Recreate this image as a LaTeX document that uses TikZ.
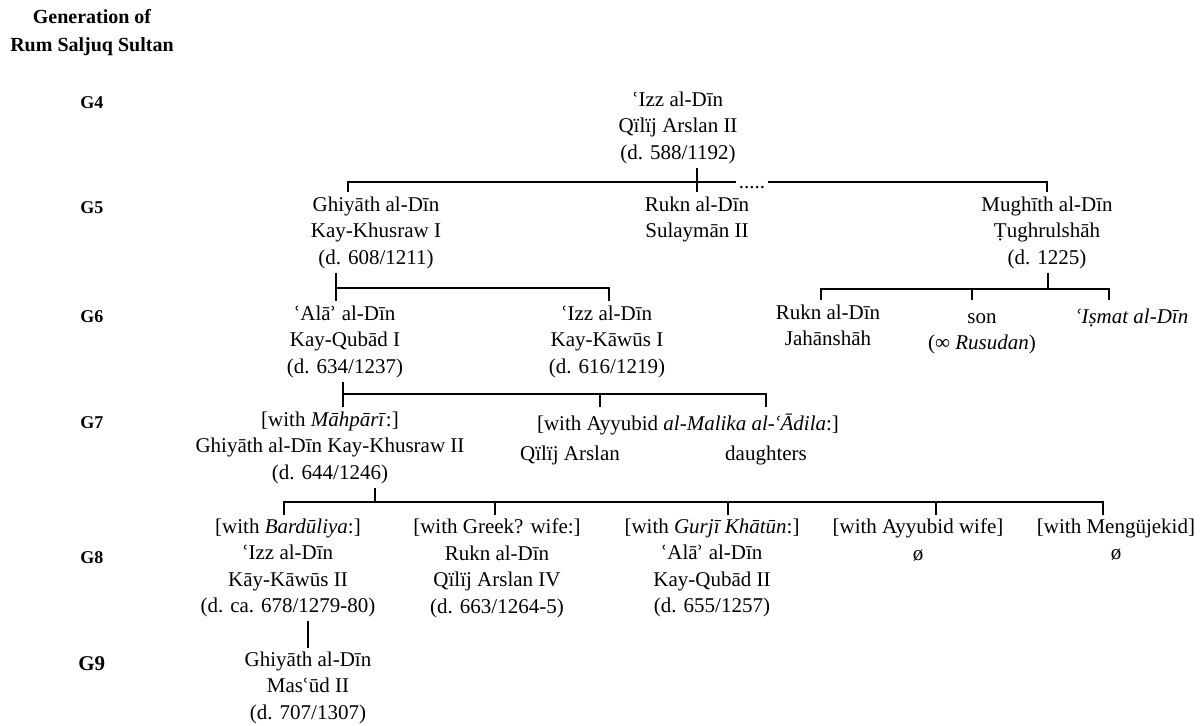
\documentclass[tikz,border=0pt]{standalone}
\usepackage{fontspec}
\setmainfont{Liberation Serif}
\newfontfamily\djv[Scale=0.9]{DejaVu Serif}
\newcommand{\ayn}{{\djv\char"02BF}}
\newcommand{\hmz}{{\djv\char"02BE}}
\usetikzlibrary{calc}

\tikzset{
  sultan/.style={anchor=north, align=center, inner sep=0pt,
    font=\fontsize{10.5}{13.25}\selectfont,
    execute at begin node=\strut, execute at end node=\strut},
  genlbl/.style={anchor=base west, inner sep=0pt, font=\bfseries\fontsize{9}{11}\selectfont},
  tie/.style={line width=0.8pt}
}

\begin{document}
\begin{tikzpicture}[x=0.5pt,y=-0.5pt]
  \useasboundingbox (0,0) rectangle (1203,726);
  % generations
  \node[anchor=base, align=center, inner sep=0pt, font=\bfseries\fontsize{10}{14}\selectfont] (head) at (92,52) {Generation of\\Rum Saljuq Sultan};
  \node[genlbl] (g4) at (80,109) {G4};
  \node[genlbl] (g5) at (80,214) {G5};
  \node[genlbl] (g6) at (80,323) {G6};
  \node[genlbl] (g7) at (80,429) {G7};
  \node[genlbl] (g8) at (80,563) {G8};
  \node[genlbl, font=\bfseries\fontsize{10.5}{12}\selectfont] (g9) at (78,670) {G9};
  % Nodes
  \node[sultan] (izzA) at (678,91.5) {\ayn Izz al-Dīn\\Qïlïj Arslan II\\(d. 588/1192)};
  \node[sultan] (ghiA) at (376,196.5) {Ghiyāth al-Dīn\\Kay-Khusraw I\\(d. 608/1211)};
  \node[sultan] (ruknA) at (697,196.5) {Rukn al-Dīn\\Sulaymān II};
  \node[sultan] (mugh) at (1047,196.5) {Mughīth al-Dīn\\Ṭughrulshāh\\(d. 1225)};
  \node[sultan] (ala) at (345,305.5) {\ayn Alā\hmz{} al-Dīn\\Kay-Qubād I\\(d. 634/1237)};
  \node[sultan] (izzB) at (607,305.5) {\ayn Izz al-Dīn\\Kay-Kāwūs I\\(d. 616/1219)};
  \node[sultan] (ruknB) at (828,304.5) {Rukn al-Dīn\\Jahānshāh};
  \node[sultan] (son) at (982,304.5) {\strut son\\(∞ \textit{Rusudan})};
  \node[sultan] (ismat) at (1132,304.5) {\textit{\ayn Iṣmat al-Dīn}};
  \node[sultan] (khus) at (330,411.5) {[with \textit{Māhpārī}:]\\Ghiyāth al-Dīn Kay-Khusraw II\\(d. 644/1246)};
  \node[sultan] (adila) at (688,411.5) {[with Ayyubid \textit{al-Malika al-\ayn Ādila}:]};
  \node[sultan] (qilij) at (570,441.5) {Qïlïj Arslan};
  \node[sultan] (daught) at (766,441.5) {daughters};
  \node[sultan] (kawus) at (288,518.5) {[with \textit{Bardūliya}:]\\\ayn Izz al-Dīn\\Kāy-Kāwūs II\\(d. ca. 678/1279-80)};
  \node[sultan] (greek) at (497,518.5) {[with Greek? wife:]\\Rukn al-Dīn\\Qïlïj Arslan IV\\(d. 663/1264-5)};
  \node[sultan] (qubad) at (712,518.5) {[with \textit{Gurjī Khātūn}:]\\\ayn Alā\hmz{} al-Dīn\\Kay-Qubād II\\(d. 655/1257)};
  \node[sultan] (ayyw) at (918,518.5) {[with Ayyubid wife]\\ø};
  \node[sultan] (meng) at (1116,518.5) {[with Mengüjekid]\\ø};
  \node[sultan] (masud) at (308,651.5) {Ghiyāth al-Dīn\\Mas\ayn ūd II\\(d. 707/1307)};
  \node[anchor=base, inner sep=1pt, font=\fontsize{10.5}{12}\selectfont] (dots) at (752,189) {.....};
  %coordinates
  \coordinate (b4l) at (348,182);
  \coordinate (b4m) at (697,182);
  \coordinate (b4r) at (1047,182);
  \coordinate (b5l) at (336,288);
  \coordinate (b5r) at (609,288);
  \coordinate (b6p) at (1048,289);
  \coordinate (b6l) at (821,289);
  \coordinate (b6m) at (972,289);
  \coordinate (b6r) at (1109,289);
  \coordinate (b7l) at (343,394);
  \coordinate (b7m) at (600,394);
  \coordinate (b7r) at (766,394);
  \coordinate (b8p) at (375,502);
  \coordinate (b8a) at (284,502);
  \coordinate (b8b) at (495,502);
  \coordinate (b8c) at (728,502);
  \coordinate (b8d) at (936,502);
  \coordinate (b8e) at (1103,502);
  % Edges
  \draw[tie, shorten <=2pt] (ghiA.north -| b4l) -- (b4l) -- (dots.west |- b4l);
  \draw[tie, shorten >=2pt] (dots.east |- b4r) -- (b4r) -- (b4r |- mugh.north);
  \draw[tie, shorten >=2pt] (izzA.south -| b4m) -- (b4m |- ruknA.north);
  \draw[tie, shorten >=2pt] (ghiA.south -| b5l) -- (b5l |- ala.north);
  \draw[tie, shorten >=2pt] (b5l) -- (b5r) -- (b5r |- izzB.north);
  \draw[tie] (mugh.south -| b6p) -- (b6p);
  \draw[tie, shorten <=2pt, shorten >=2pt] (ruknB.north -| b6l) -- (b6l) -- (b6r) -- (b6r |- ismat.north);
  \draw[tie, shorten >=2pt] (b6m) -- (b6m |- son.north);
  \draw[tie, shorten >=2pt] (ala.south -| b7l) -- (b7l |- khus.north);
  \draw[tie, shorten >=2pt] (b7l) -- (b7r) -- (b7r |- adila.north);
  \draw[tie, shorten >=2pt] (b7m) -- (b7m |- adila.north);
  \draw[tie] (khus.south -| b8p) -- (b8p);
  \draw[tie, shorten <=2pt, shorten >=2pt] (kawus.north -| b8a) -- (b8a) -- (b8e) -- (b8e |- meng.north);
  \draw[tie, shorten >=2pt] (b8b) -- (b8b |- greek.north);
  \draw[tie, shorten >=2pt] (b8c) -- (b8c |- qubad.north);
  \draw[tie, shorten >=2pt] (b8d) -- (b8d |- ayyw.north);
  \draw[tie, shorten >=2pt] (kawus.south -| masud.north) -- (masud.north);
\end{tikzpicture}
\end{document}
